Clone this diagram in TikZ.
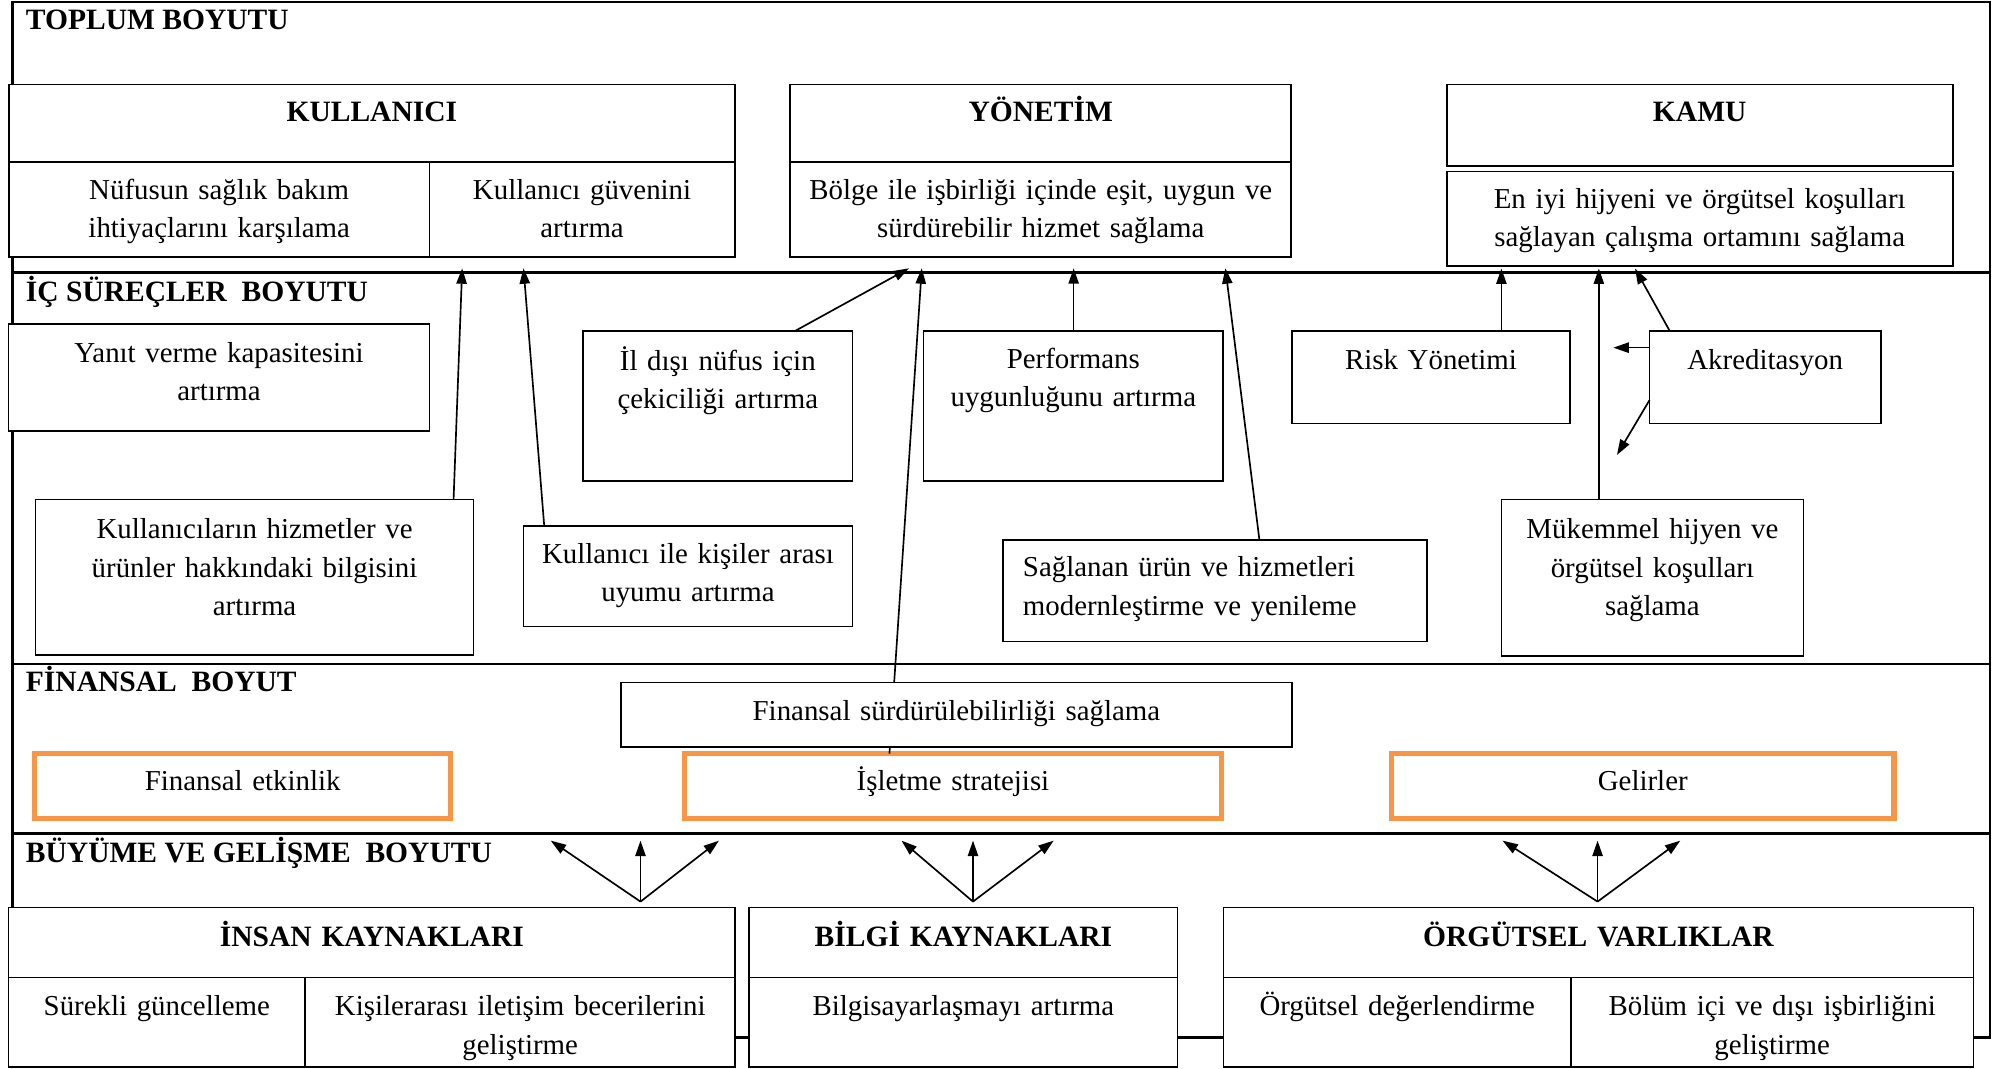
\documentclass[tikz,border=0pt]{standalone}
\usepackage{fontspec}
\setmainfont{Liberation Serif}
\usetikzlibrary{arrows.meta,calc}
\definecolor{orng}{RGB}{247,150,70}
\begin{document}
\begin{tikzpicture}[x=1pt,y=-1pt,
  every node/.style={font=\fontsize{22.5}{30}\selectfont},
  bx/.style={draw=black,line width=1.3pt,fill=white,anchor=north west,inner xsep=0pt,inner ysep=0pt,outer sep=0pt,align=center},
  ttl/.style={bx,font=\fontsize{23}{30}\selectfont\bfseries},
  ob/.style={bx,draw=orng,line width=4pt},
  hdr/.style={anchor=base west,inner sep=0pt,font=\fontsize{23}{30}\selectfont\bfseries},
  arr/.style={line width=1.3pt,-{Triangle[length=12pt,width=8pt]}},
  div/.style={line width=2.2pt}]
\useasboundingbox (0,0) rectangle (1568,832);
% frame and dimension dividers
\draw[div] (10,1.5) rectangle (1550,808);
\draw[div] (10,212.5) -- (1550,212.5);
\draw[div] (10,517.2) -- (1550,517.2);
\draw[div] (10,649.1) -- (1550,649.1);
% headers
\node[hdr] (h1) at (20,22.8) {TOPLUM BOYUTU};
\node[hdr] (h2) at (20,235) {İÇ SÜREÇLER~~BOYUTU};
\node[hdr] (h3) at (20,538.8) {FİNANSAL~~BOYUT};
\node[hdr] (h4) at (20,672) {BÜYÜME VE GELİŞME~~BOYUTU};
% TOPLUM
\node[ttl,text width=565.3pt,text height=29.3pt,text depth=31.4pt] (kul) at (7,65.7) {KULLANICI};
\node[bx,text width=327.5pt,text height=28.9pt,text depth=44.7pt] (kul1) at (7,126.4) {Nüfusun sağlık bakım\\ihtiyaçlarını karşılama};
\node[bx,text width=237.8pt,text height=28.9pt,text depth=44.7pt] (kul2) at (334.5,126.4) {Kullanıcı güvenini\\artırma};
\node[ttl,text width=390.2pt,text height=29.3pt,text depth=31.4pt] (yon) at (615.6,65.7) {YÖNETİM};
\node[bx,text width=390.2pt,text height=28.9pt,text depth=44.7pt] (yon1) at (615.6,126.4) {Bölge ile işbirliği içinde eşit, uygun ve\\sürdürebilir hizmet sağlama};
\node[ttl,text width=394.1pt,text height=29.3pt,text depth=34.3pt] (kam) at (1126.9,65.7) {KAMU};
\node[bx,text width=394.1pt,text height=28.6pt,text depth=44.9pt] (kam1) at (1126.9,133.7) {En iyi hijyeni ve örgütsel koşulları\\sağlayan çalışma ortamını sağlama};
% IC SURECLER
\node[bx,text width=327.8pt,text height=29.4pt,text depth=53.5pt] (yan) at (6.7,252.6) {Yanıt verme kapasitesini\\artırma};
\node[bx,text width=341.2pt,text height=30.5pt,text depth=90.7pt] (kbil) at (27.7,389) {Kullanıcıların hizmetler ve\\ürünler hakkındaki bilgisini\\artırma};
\node[bx,text width=209.7pt,text height=30.7pt,text depth=86.2pt] (ild) at (454.3,257.8) {İl dışı nüfus için\\çekiciliği artırma};
\node[bx,text width=256.2pt,text height=29.3pt,text depth=49.3pt] (kuy) at (407.8,409.5) {Kullanıcı ile kişiler arası\\uyumu artırma};
\node[bx,text width=233.5pt,text height=29.2pt,text depth=87.7pt] (perf) at (719.3,257.8) {Performans\\uygunluğunu artırma};
\node[bx,text width=216.7pt,text height=30.4pt,text depth=41.6pt] (risk) at (1006.3,257.8) {Risk Yönetimi};
\node[bx,text width=180.1pt,text height=30.4pt,text depth=41.6pt] (akr) at (1284.9,257.8) {Akreditasyon};
\node[bx,align=left,inner xsep=15.7pt,text width=299pt,text height=28.6pt,text depth=50.6pt] (sag) at (781.1,420.6) {Sağlanan ürün ve hizmetleri\\modernleştirme ve yenileme};
\node[bx,text width=235.2pt,text height=30.5pt,text depth=91.5pt] (muk) at (1169.5,389) {Mükemmel hijyen ve\\örgütsel koşulları\\sağlama};
% FINANSAL
\node[ob,text width=323.9pt,text height=28.4pt,text depth=21.9pt] (fetk) at (27.1,587) {Finansal etkinlik};
\node[ob,text width=418.6pt,text height=28.4pt,text depth=21.9pt] (islet) at (533,587) {İşletme stratejisi};
\node[ob,text width=391.4pt,text height=28.4pt,text depth=21.9pt] (gelir) at (1083.9,587) {Gelirler};
\draw[arr] ($(islet.north west)+(159.8,0)$) -- ($(yon1.south west)+(102.4,9)$);
\node[bx,text width=522.8pt,text height=29.5pt,text depth=20.6pt] (fsurd) at (483.6,531.5) {Finansal sürdürülebilirliği sağlama};
% BUYUME
\node[ttl,text width=566.1pt,text height=30.2pt,text depth=24.3pt] (ins) at (6.6,706.8) {İNSAN KAYNAKLARI};
\node[bx,text width=231.1pt,text height=29.7pt,text depth=40pt] (ins1) at (6.6,761.3) {Sürekli güncelleme};
\node[bx,text width=335pt,text height=29.7pt,text depth=40pt] (ins2) at (237.7,761.3) {Kişilerarası iletişim becerilerini\\geliştirme};
\node[ttl,text width=333.7pt,text height=30.2pt,text depth=24.3pt] (bil) at (583.6,706.8) {BİLGİ KAYNAKLARI};
\node[bx,text width=333.7pt,text height=29.7pt,text depth=40pt] (bil1) at (583.6,761.3) {Bilgisayarlaşmayı artırma};
\node[ttl,text width=584.2pt,text height=30.2pt,text depth=24.3pt] (org) at (953,706.8) {ÖRGÜTSEL VARLIKLAR};
\node[bx,text width=270.7pt,text height=29.7pt,text depth=40pt] (org1) at (953,761.3) {Örgütsel değerlendirme};
\node[bx,text width=313.5pt,text height=29.7pt,text depth=40pt] (org2) at (1223.7,761.3) {Bölüm içi ve dışı işbirliğini\\geliştirme};
% arrows to TOPLUM
\draw[arr] ($(kbil.north west)+(325.6,0)$) -- ($(kul2.south west)+(25.5,9)$);
\draw[arr] ($(kuy.north west)+(16.1,0)$) -- ($(kul2.south west)+(73.3,9)$);
\draw[arr] ($(ild.north west)+(165,0)$) -- ($(yon1.south west)+(92.4,9)$);
\draw[arr] ($(perf.north west)+(117,0)$) -- ($(yon1.south west)+(220.7,9)$);
\draw[arr] ($(sag.north west)+(199.9,0)$) -- ($(yon1.south west)+(338.9,9)$);
\draw[arr] ($(risk.north west)+(163.2,0)$) -- ($(kam1.south west)+(42.6,2)$);
\draw[arr] ($(muk.north west)+(75.9,0)$) -- ($(kam1.south west)+(118.5,2)$);
\draw[arr] ($(akr.north west)+(15.7,0)$) -- ($(kam1.south west)+(146.7,2)$);
\coordinate (akrL) at (1256.7,270.8);
\coordinate (akrD) at (1259.5,354.4);
\draw[arr] ($(akr.north west)+(0,13)$) -- (akrL);
\draw[arr] ($(akr.north west)+(0,53.8)$) -- (akrD);
% fans
\coordinate (fa) at (498.9,702.3);
\coordinate (fa1) at (429,654.8);
\coordinate (fa2) at (498.9,654.8);
\coordinate (fa3) at (560,654.8);
\coordinate (fb) at (757.9,702.3);
\coordinate (fb1) at (702.2,654.8);
\coordinate (fb2) at (757.9,654.8);
\coordinate (fb3) at (820.7,654.8);
\coordinate (fc) at (1244.4,702.3);
\coordinate (fc1) at (1170.4,654.8);
\coordinate (fc2) at (1244.4,654.8);
\coordinate (fc3) at (1308.8,654.8);
\foreach \b in {fa,fb,fc}{
  \draw[arr] (\b) -- (\b1);
  \draw[arr] (\b) -- (\b2);
  \draw[arr] (\b) -- (\b3);
}
\end{tikzpicture}
\end{document}
